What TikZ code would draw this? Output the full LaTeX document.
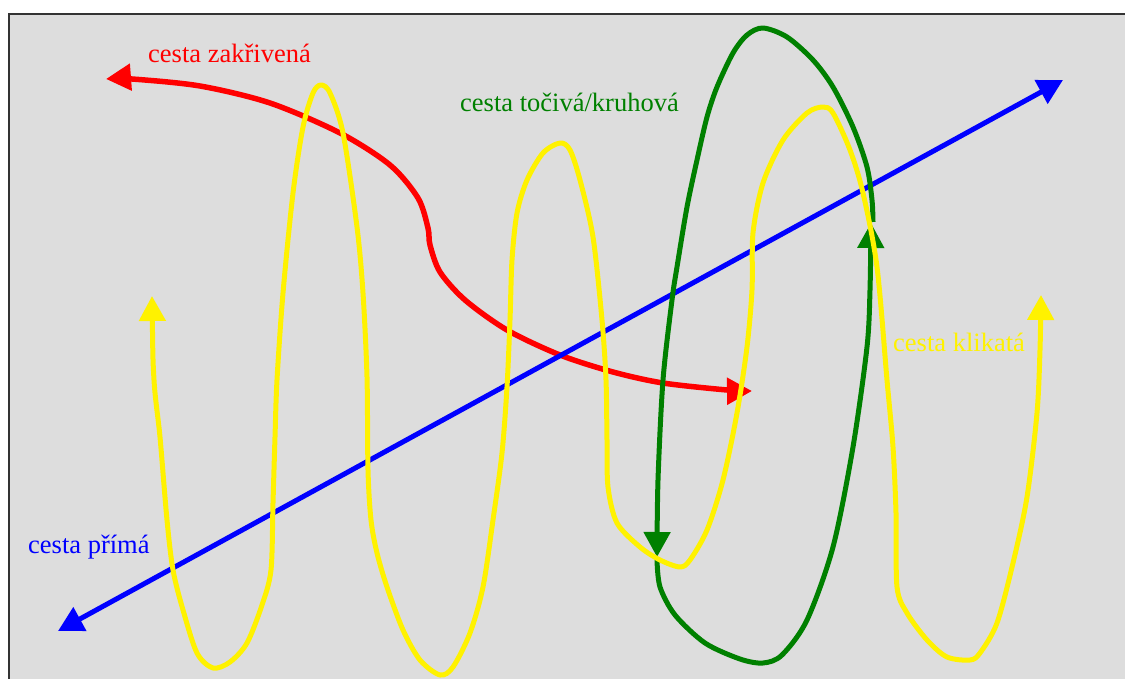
\documentclass[tikz,border=0pt]{standalone}
\usepackage{fontspec}
\setmainfont{Liberation Serif}
\usetikzlibrary{arrows.meta}
\definecolor{bgray}{HTML}{DDDDDD}
\definecolor{dgreen}{RGB}{0,128,0}
\definecolor{framec}{HTML}{333333}
\tikzset{
  tri/.tip={Triangle[length=25pt,width=26pt]},
  pathline/.style={line width=5pt, line join=round},
  lbl/.style={inner sep=0pt, anchor=base west, font=\fontsize{26.5}{30}\selectfont},
}
\begin{document}
\begin{tikzpicture}[x=1pt,y=-1pt]
\useasboundingbox (0,0) rectangle (1125,679);
\begin{scope}
\clip (0,0) rectangle (1125,679);
\fill[white] (0,0) rectangle (1125,679);
\draw[framec, line width=2pt, fill=bgray] (9,14) rectangle (1140,700);
\end{scope}

% labels
\node[lbl, text=red] (lz) at (148,63) {cesta zakřivená};
\node[lbl, text=dgreen] (lt) at (460,112) {cesta točivá/kruhová};
\node[lbl, text=yellow] (lk) at (893,351) {cesta klikatá};
\node[lbl, text=blue] (lp) at (28,553) {cesta přímá};

% end coordinates
\coordinate (bA) at (58,631);
\coordinate (bB) at (1063,80);

% red curved path
\draw[pathline, red, line width=5.5pt, {tri}-{tri}] plot[smooth] coordinates {
 (106,79) (132,79) (200,86) (270,103) (340,133) (390,165) (418,198)
 (428,228) (430,245) (440,272) (465,300) (507,330) (560,355) (613,372) (663,383)
 (727,390) (752,391)};

% blue straight path
\draw[pathline, blue, {tri}-{tri}] (bA) -- (bB);

% green circular path
\draw[pathline, dgreen, -{tri}] plot[smooth] coordinates {
 (873,222) (872,200) (867,167) (853,127) (833,87) (813,60) (787,37) (763,28)
 (747,35) (733,53) (717,87) (707,117) (697,160) (687,207) (677,267) (672,300)
 (663,380) (658,480) (657,557)};
\draw[pathline, dgreen, -{tri}] plot[smooth] coordinates {
 (657,560) (660,587) (675,615) (705,643) (740,659) (763,663) (782,655) (807,620)
 (833,547) (853,447) (867,347) (870,290) (871,223)};

% yellow zigzag path
\draw[pathline, yellow, {tri}-{tri}] plot[smooth] coordinates {
 (152,296) (154,380) (160,437) (167,520) (173,570) (183,610) (197,653) (213,668)
 (230,662) (247,643) (262,605) (271,570) (273,503) (275,437) (277,380) (283,293)
 (293,193) (303,127) (313,93) (321,85) (330,93) (343,133) (357,227) (363,293)
 (367,377) (368,470) (371,520) (377,553) (387,587) (403,630) (420,660) (440,675)
 (453,667) (470,633) (483,587) (493,520) (502,453) (507,387) (510,320) (512,260)
 (517,213) (527,180) (543,153) (560,143) (570,150) (580,180) (593,237) (602,320)
 (606,380) (607,440) (608,487) (617,523) (640,547) (660,560) (680,567) (690,560)
 (707,530) (723,480) (737,413) (747,347) (752,290) (753,233) (763,183) (783,140)
 (807,113) (823,107) (833,113) (850,150) (863,193) (877,267) (887,380) (893,447)
 (896,513) (897,587) (907,613) (927,640) (947,657) (970,660) (980,653) (997,623)
 (1013,563) (1027,497) (1037,413) (1040,350) (1041,295)};
\end{tikzpicture}
\end{document}
